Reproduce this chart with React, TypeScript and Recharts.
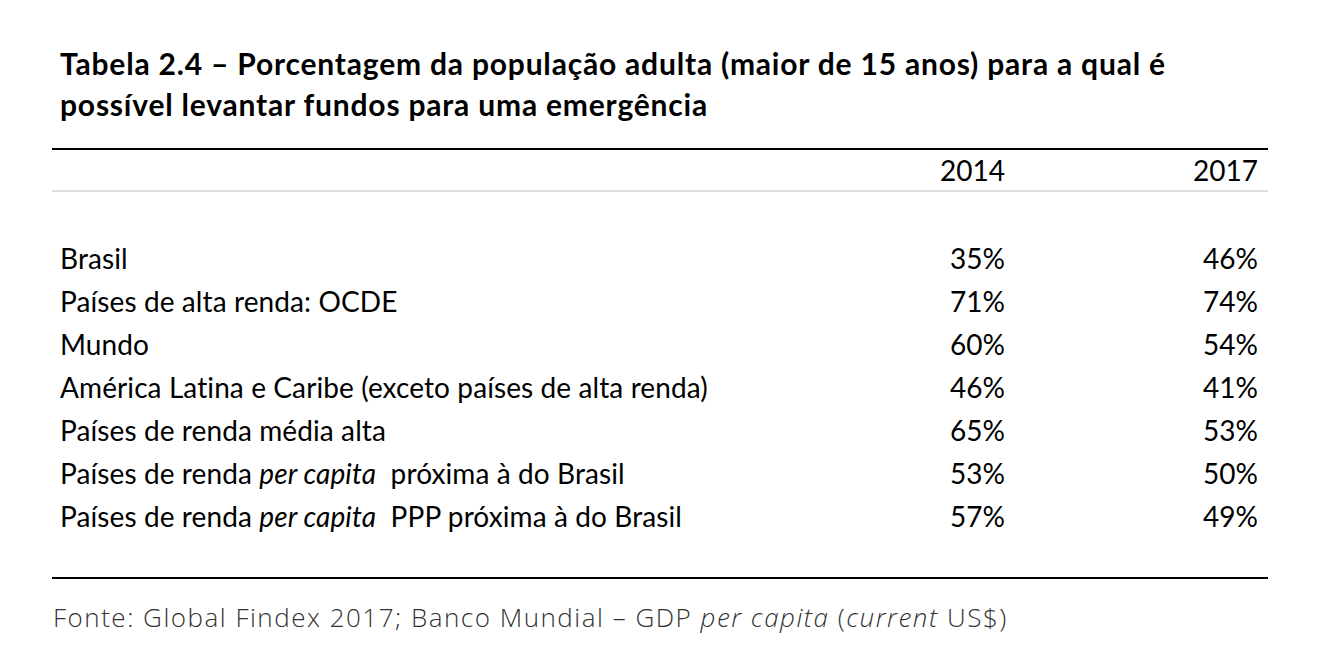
import React from 'react';
import { ScatterChart, Scatter, XAxis, YAxis, Customized } from 'recharts';

// table rows (top to bottom)
const rowLabels = [
  'Brasil',
  'Países de alta renda: OCDE',
  'Mundo',
  'América Latina e Caribe (exceto países de alta renda)',
  'Países de renda média alta',
  'Países de renda per capita  próxima à do Brasil',
  'Países de renda per capita  PPP próxima à do Brasil',
];
const years = [2014, 2017];
const values2014 = [35, 71, 60, 46, 65, 53, 57];
const values2017 = [46, 74, 54, 41, 53, 50, 49];

const titleLines = [
  'Tabela 2.4 – Porcentagem da população adulta (maior de 15 anos) para a qual é',
  'possível levantar fundos para uma emergência',
];

const FONT = 'Lato, "Noto Sans", sans-serif';

const data2014 = rowLabels.map((name, i) => ({ name, year: years[0], value: values2014[i] }));
const data2017 = rowLabels.map((name, i) => ({ name, year: years[1], value: values2017[i] }));

// italicise "per capita" inside a label
const renderRich = (label: string) => {
  const parts = label.split('per capita');
  if (parts.length === 1) return label;
  return parts.map((p, i) => (
    <React.Fragment key={i}>
      {i > 0 && <tspan fontStyle="italic">per capita</tspan>}
      <tspan xmlSpace="preserve">{p}</tspan>
    </React.Fragment>
  ));
};

const RowTick = (props: any) => {
  const { y, payload } = props;
  return (
    <text x={52} y={y} dy={9} fontSize={28} letterSpacing={0.1} fill="#000" fontFamily={FONT} textAnchor="start" style={{ whiteSpace: 'pre' }}>
      {renderRich(payload.value)}
    </text>
  );
};

const YearTick = (props: any) => {
  const { x, payload } = props;
  return (
    <text x={x} y={173} fontSize={28} fill="#000" fontFamily={FONT} textAnchor="end">
      {payload.value}
    </text>
  );
};

const ValueCell = (props: any) => {
  const { cx, cy, payload } = props;
  return (
    <text x={cx} y={cy} dy={9} fontSize={28} fill="#000" fontFamily={FONT} textAnchor="end">
      {payload.value}%
    </text>
  );
};

const Decorations = () => (
  <g>
    {titleLines.map((t, i) => (
      <text key={i} x={52} y={67 + i * 41} fontSize={30} fontWeight={700} letterSpacing={0.8} fill="#000" fontFamily={FONT}>
        {t}
      </text>
    ))}
    <line x1={44} x2={1260} y1={141} y2={141} stroke="#000" strokeWidth={2} />
    <line x1={44} x2={1260} y1={183} y2={183} stroke="#bfbfbf" strokeWidth={1} />
    <line x1={44} x2={1260} y1={570} y2={570} stroke="#000" strokeWidth={2} />
    <text x={45} y={619} fontSize={26} fontWeight={300} letterSpacing={1.5} fill="#333" fontFamily='"Open Sans", sans-serif' style={{ whiteSpace: 'pre' }}>
      Fonte: Global Findex 2017; Banco Mundial – GDP <tspan fontStyle="italic">per capita</tspan> (<tspan fontStyle="italic">current</tspan> US$)
    </text>
  </g>
);

const App = () => {
  return (
    <div style={{ background: '#fff' }}>
      <ScatterChart width={1312} height={654} margin={{ top: 0, right: 62, bottom: 122, left: 0 }}>
        <XAxis
          type="number"
          dataKey="year"
          orientation="top"
          domain={[2011, 2017]}
          ticks={years}
          height={230}
          axisLine={false}
          tickLine={false}
          tick={<YearTick />}
        />
        <YAxis
          type="category"
          dataKey="name"
          allowDuplicatedCategory={false}
          reversed
          width={744}
          axisLine={false}
          tickLine={false}
          interval={0}
          tick={<RowTick />}
        />
        <Scatter data={data2014} shape={<ValueCell />} isAnimationActive={false} />
        <Scatter data={data2017} shape={<ValueCell />} isAnimationActive={false} />
        <Customized component={Decorations} />
      </ScatterChart>
    </div>
  );
};

export default App;
